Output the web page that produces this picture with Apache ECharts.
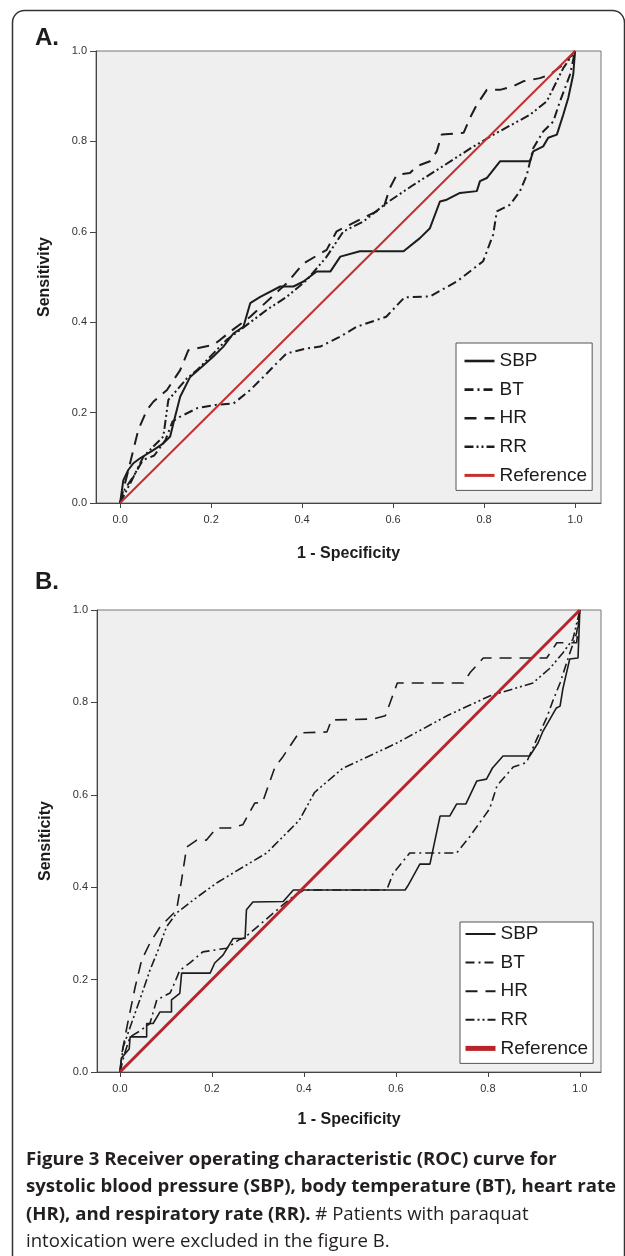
<!DOCTYPE html>
<html>
<head>
<meta charset="utf-8">
<script src="https://cdn.jsdelivr.net/npm/echarts@6/dist/echarts.min.js"></script>
<style>
  html, body { margin: 0; padding: 0; background: #fff; }
  #main { width: 625px; height: 1256px; }
</style>
</head>
<body>
<div id="main"></div>
<script>
// ROC curves, [1 - specificity, sensitivity]
var sbpA = [[0,0],[0.007,0.05],[0.018,0.073],[0.029,0.088],[0.044,0.099],[0.073,0.117],[0.095,0.132],[0.11,0.147],
  [0.117,0.176],[0.132,0.235],[0.154,0.279],[0.176,0.298],[0.205,0.324],[0.227,0.346],[0.249,0.375],[0.271,0.39],
  [0.286,0.442],[0.308,0.456],[0.352,0.479],[0.381,0.479],[0.403,0.49],[0.432,0.512],[0.462,0.512],[0.484,0.545],
  [0.527,0.557],[0.623,0.557],[0.659,0.586],[0.681,0.608],[0.703,0.667],[0.718,0.671],[0.747,0.686],[0.784,0.69],
  [0.791,0.712],[0.806,0.719],[0.835,0.756],[0.901,0.756],[0.908,0.778],[0.93,0.789],[0.941,0.808],[0.96,0.815],
  [0.974,0.859],[0.985,0.896],[0.996,0.948],[1,1]];
var btA = [[0,0],[0.01,0.03],[0.03,0.06],[0.05,0.095],[0.075,0.105],[0.1,0.14],[0.115,0.18],[0.13,0.19],[0.17,0.21],
  [0.21,0.217],[0.249,0.22],[0.286,0.25],[0.315,0.279],[0.344,0.309],[0.366,0.331],[0.41,0.342],[0.44,0.346],
  [0.484,0.368],[0.52,0.39],[0.585,0.412],[0.625,0.455],[0.681,0.457],[0.74,0.49],[0.798,0.535],[0.82,0.594],
  [0.828,0.645],[0.857,0.66],[0.879,0.69],[0.894,0.726],[0.908,0.785],[0.93,0.822],[0.952,0.844],[0.967,0.889],
  [0.989,0.948],[1,1]];
var hrA = [[0,0],[0.011,0.044],[0.029,0.117],[0.04,0.162],[0.059,0.206],[0.073,0.224],[0.103,0.25],[0.132,0.294],
  [0.15,0.338],[0.169,0.342],[0.205,0.35],[0.22,0.361],[0.242,0.379],[0.286,0.412],[0.366,0.486],[0.403,0.53],
  [0.454,0.56],[0.476,0.601],[0.535,0.631],[0.579,0.653],[0.593,0.697],[0.608,0.726],[0.637,0.73],[0.652,0.745],
  [0.681,0.756],[0.696,0.778],[0.707,0.815],[0.755,0.819],[0.769,0.852],[0.784,0.881],[0.806,0.914],[0.835,0.914],
  [0.864,0.922],[0.886,0.933],[0.923,0.94],[0.945,0.948],[0.974,0.97],[1,1]];
var rrA = [[0,0],[0.026,0.051],[0.051,0.102],[0.073,0.125],[0.095,0.147],[0.106,0.228],[0.125,0.25],[0.147,0.276],
  [0.169,0.294],[0.205,0.331],[0.234,0.361],[0.264,0.383],[0.293,0.405],[0.322,0.427],[0.366,0.456],[0.41,0.493],
  [0.454,0.545],[0.491,0.601],[0.535,0.623],[0.586,0.664],[0.645,0.704],[0.703,0.741],[0.777,0.789],[0.828,0.819],
  [0.901,0.859],[0.938,0.889],[0.974,0.962],[1,1]];

var sbpB = [[0,0],[0.003,0.03],[0.02,0.05],[0.022,0.076],[0.058,0.076],[0.058,0.105],[0.072,0.105],[0.087,0.13],
  [0.112,0.13],[0.112,0.156],[0.13,0.17],[0.134,0.214],[0.196,0.214],[0.206,0.236],[0.224,0.253],[0.246,0.289],
  [0.272,0.289],[0.275,0.351],[0.289,0.368],[0.355,0.369],[0.377,0.394],[0.62,0.394],[0.626,0.403],[0.652,0.45],
  [0.674,0.45],[0.696,0.554],[0.717,0.554],[0.732,0.58],[0.752,0.58],[0.776,0.63],[0.797,0.634],[0.81,0.658],
  [0.833,0.684],[0.891,0.684],[0.909,0.712],[0.92,0.738],[0.935,0.764],[0.949,0.788],[0.957,0.792],[0.963,0.829],
  [0.971,0.864],[0.978,0.894],[0.996,0.896],[1,1]];
var btB = [[0,0],[0.01,0.04],[0.022,0.076],[0.045,0.09],[0.065,0.105],[0.08,0.156],[0.109,0.171],[0.115,0.184],
  [0.13,0.22],[0.152,0.236],[0.18,0.26],[0.232,0.268],[0.26,0.287],[0.27,0.29],[0.37,0.375],[0.4,0.394],
  [0.58,0.394],[0.594,0.43],[0.63,0.474],[0.732,0.474],[0.761,0.51],[0.804,0.57],[0.82,0.62],[0.855,0.66],
  [0.884,0.67],[0.906,0.72],[0.928,0.767],[0.94,0.8],[0.957,0.842],[0.974,0.894],[0.993,0.95],[1,1]];
var hrB = [[0,0],[0.004,0.04],[0.015,0.097],[0.033,0.184],[0.047,0.242],[0.065,0.279],[0.087,0.314],[0.123,0.35],
  [0.134,0.416],[0.145,0.487],[0.167,0.502],[0.188,0.502],[0.21,0.528],[0.239,0.528],[0.267,0.535],[0.293,0.582],
  [0.31,0.584],[0.337,0.66],[0.354,0.682],[0.389,0.734],[0.45,0.736],[0.46,0.762],[0.55,0.764],[0.577,0.771],
  [0.603,0.842],[0.747,0.842],[0.761,0.864],[0.79,0.896],[0.928,0.896],[0.95,0.929],[0.993,0.929],[1,1]];
var rrB = [[0,0],[0.007,0.054],[0.022,0.097],[0.043,0.156],[0.065,0.22],[0.083,0.264],[0.101,0.314],[0.123,0.344],
  [0.159,0.372],[0.21,0.409],[0.268,0.444],[0.319,0.474],[0.39,0.545],[0.423,0.605],[0.484,0.657],[0.602,0.712],
  [0.711,0.771],[0.804,0.814],[0.898,0.842],[0.935,0.874],[0.963,0.907],[0.985,0.937],[1,1]];
var refLine = [[0,0],[1,1]];

var seriesNames = ['SBP', 'BT', 'HR', 'RR', 'Reference'];
var tickValues = [0, 0.2, 0.4, 0.6, 0.8, 1.0];
var titleA = 'A.', titleB = 'B.';
var yNameA = 'Sensitivity', yNameB = 'Sensiticity';   // panel B spelled as in the figure
var xName = '1 - Specificity';
var captionBold = ['Figure 3 Receiver operating characteristic (ROC) curve for',
  'systolic blood pressure (SBP), body temperature (BT), heart rate', '(HR), and respiratory rate (RR).'];
var captionPlain = [' # Patients with paraquat', 'intoxication were excluded in the figure B.'];

var sans = 'Liberation Sans';
var ink = '#1c1c1c';

function xAxisFor(grid, min, max, gap) {
    return {
        gridIndex: grid, type: 'value', min: min, max: max,
        axisLine: { show: true, onZero: false, lineStyle: { color: '#444', width: 1 } },
        axisTick: { show: true, length: 5, customValues: tickValues, lineStyle: { color: '#444' } },
        axisLabel: { customValues: tickValues, formatter: function (v) { return v.toFixed(1); },
            margin: 11, fontSize: 11, color: '#333', fontFamily: sans },
        splitLine: { show: false },
        name: xName, nameLocation: 'middle', nameGap: gap,
        nameTextStyle: { fontWeight: 'bold', fontSize: 16, color: ink, fontFamily: sans }
    };
}

function yAxisFor(grid, name) {
    return {
        gridIndex: grid, type: 'value', min: 0, max: 1, interval: 0.2,
        axisLine: { show: true, onZero: false, lineStyle: { color: '#444', width: 1 } },
        axisTick: { show: true, length: 6, lineStyle: { color: '#444' } },
        axisLabel: { formatter: function (v) { return v.toFixed(1); },
            margin: 9, fontSize: 11, color: '#333', fontFamily: sans },
        splitLine: { show: false },
        name: name, nameLocation: 'middle', nameGap: 43,
        nameTextStyle: { fontWeight: 'bold', fontSize: 16, color: ink, fontFamily: sans }
    };
}

function curve(name, idx, data, type, width, color) {
    return {
        name: name, type: 'line', xAxisIndex: idx, yAxisIndex: idx, data: data,
        symbol: 'none', showSymbol: false, silent: true, animation: false,
        lineStyle: { color: color || ink, width: width, type: type },
        itemStyle: { color: color || ink },
        z: color ? 3 : 2
    };
}

function legendFor(names, left, top, padding, lineW, refW) {
    return {
        orient: 'vertical', left: left, top: top,
        data: names.map(function (n, i) {
            return { name: n, lineStyle: { width: i === names.length - 1 ? refW : lineW } };
        }),
        itemWidth: 30, itemHeight: 14, itemGap: 8.6, padding: padding,
        backgroundColor: '#fff', borderColor: '#555', borderWidth: 1,
        selectedMode: false,
        // hide the marker dot, keep only the line sample
        itemStyle: { color: 'rgba(0,0,0,0)', borderWidth: 0 },
        formatter: function (n) { return n.replace(/ B$/, ''); },
        textStyle: { fontSize: 19, lineHeight: 20, color: ink, fontFamily: sans }
    };
}

var namesB = seriesNames.map(function (n) { return n + ' B'; });
var dashBT = [9, 4, 2, 4], dashHR = [12, 8], dashRR = [9, 3, 2, 3, 2, 3];

var chart = echarts.init(document.getElementById('main'));
chart.setOption({
    animation: false,
    backgroundColor: '#fff',
    grid: [
        { left: 96, top: 51, width: 505, height: 452, show: true, backgroundColor: '#efefef', borderColor: '#777', borderWidth: 1 },
        { left: 97, top: 610, width: 504, height: 462, show: true, backgroundColor: '#efefef', borderColor: '#777', borderWidth: 1 }
    ],
    xAxis: [xAxisFor(0, -0.053, 1.057, 43), xAxisFor(1, -0.05, 1.046, 40)],
    yAxis: [yAxisFor(0, yNameA), yAxisFor(1, yNameB)],
    legend: [
        legendFor(seriesNames, 456, 343, [8, 5, 5, 7], 2.6, 3),
        legendFor(namesB, 460, 922, [2, 5, 5, 3], 2, 5)
    ],
    series: [
        curve(seriesNames[0], 0, sbpA, 'solid', 2),
        curve(seriesNames[1], 0, btA, dashBT, 2),
        curve(seriesNames[2], 0, hrA, dashHR, 2),
        curve(seriesNames[3], 0, rrA, dashRR, 2),
        curve(seriesNames[4], 0, refLine, 'solid', 2, '#c4302f'),
        curve(namesB[0], 1, sbpB, 'solid', 1.6),
        curve(namesB[1], 1, btB, dashBT, 1.6),
        curve(namesB[2], 1, hrB, dashHR, 1.6),
        curve(namesB[3], 1, rrB, dashRR, 1.6),
        curve(namesB[4], 1, refLine, 'solid', 3, '#b9242b')
    ],
    graphic: [
        { type: 'rect', left: 10, top: 8, silent: true,
          shape: { width: 612, height: 1300, r: 12 },
          style: { fill: 'none', stroke: '#333', lineWidth: 1.5 } },
        { type: 'text', left: 35, top: 26, silent: true,
          style: { text: titleA, font: 'bold 24px "Liberation Sans"', fill: ink } },
        { type: 'text', left: 35, top: 570, silent: true,
          style: { text: titleB, font: 'bold 24px "Liberation Sans"', fill: ink } },
        { type: 'text', left: 26, top: 1150, silent: true,
          style: {
              text: '{b|' + captionBold[0] + '}\n{b|' + captionBold[1] + '}\n{b|' + captionBold[2] + '}{r|' +
                    captionPlain[0] + '}\n{r|' + captionPlain[1] + '}',
              rich: {
                  b: { fontFamily: 'Open Sans', fontWeight: 'bold', fontSize: 18.6, lineHeight: 27.5, fill: '#231f20' },
                  r: { fontFamily: 'Open Sans', fontSize: 18.6, lineHeight: 27.5, fill: '#231f20' }
              }
          } }
    ]
});
</script>
</body>
</html>
